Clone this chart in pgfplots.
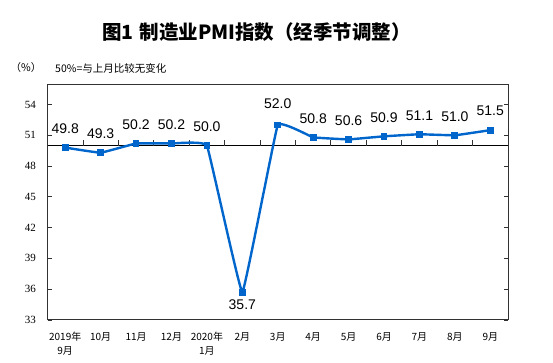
\documentclass[border=0pt]{standalone}
\usepackage{fontspec}
\setmainfont{Liberation Sans}
\newfontfamily\cjk{Noto Sans CJK SC}
\newfontfamily\serif{Liberation Serif}
\usepackage{pgfplots}
\usepackage{pgfplotstable}
\pgfplotsset{compat=1.18}
\definecolor{pmiblue}{RGB}{0,102,204}
\definecolor{axisgray}{RGB}{50,50,50}

\pgfplotstableread{
x y dy
0 49.8 19
1 49.3 19
2 50.2 19
3 50.2 19
4 50.0 19
5 35.7 -12.5
6 52.0 21
7 50.8 19
8 50.6 19
9 50.9 19
10 51.1 19
11 51.0 19
12 51.5 19
}\pmidata

\begin{document}
\begin{tikzpicture}[x=1bp,y=1bp]
\useasboundingbox (0,0) rectangle (553,362);
\node[font=\cjk\bfseries\fontsize{19.5bp}{22bp}\selectfont] at (256.5,330.3) {图1\hspace{6bp}制造业PMI指数（经季节调整）};
\node[font=\cjk\fontsize{10.5bp}{12bp}\selectfont] at (26,294) {（\%）};
\node[font=\cjk\fontsize{10.5bp}{12bp}\selectfont, anchor=west, inner sep=0pt] at (55,294) {50\%=与上月比较无变化};
\begin{axis}[
  at={(47.5bp,42.1bp)}, anchor=south west,
  scale only axis, width=460.5bp, height=235.9bp,
  xmin=-0.5, xmax=12.5, ymin=33, ymax=56,
  ytick={33,36,...,54},
  xtick={0,...,12},
  xticklabels={{2019年\\9月},10月,11月,12月,{2020年\\1月},2月,3月,4月,5月,6月,7月,8月,9月},
  x tick label style={font=\cjk\fontsize{10bp}{14bp}\selectfont, align=center, yshift=-9bp},
  y tick label style={font=\serif\fontsize{11bp}{13bp}\selectfont, xshift=-8bp},
  /pgf/number format/assume math mode=true,
  xtick style={draw=none},
  ytick style={draw=axisgray, line width=0.8bp},
  tick align=inside,
  major tick length=4bp,
  axis line style={draw=axisgray, line width=0.9bp},
  clip=false,
]
\draw[black, line width=1bp] (axis cs:-0.5,50) -- (axis cs:12.5,50);
\pgfplotsinvokeforeach{0.5,1.5,...,11.5}{
  \draw[axisgray, line width=0.8bp] (axis cs:#1,50) -- (axis cs:#1,50.5);
}
\addplot[pmiblue, line width=2.4bp, smooth, tension=0.12,
  mark=square*, mark size=2.2bp, mark options={solid, fill=pmiblue},
  nodes near coords={\pgfmathprintnumber[fixed,fixed zerofill,precision=1]{\pgfplotspointmeta}},
  point meta=explicit,
  visualization depends on={\thisrow{dy} \as \dy},
  nodes near coords style={anchor=center, yshift=\dy bp, text=black, font=\fontsize{14bp}{16bp}\selectfont},
] table[x=x, y=y, meta=y] {\pmidata};
\end{axis}
\end{tikzpicture}
\end{document}
